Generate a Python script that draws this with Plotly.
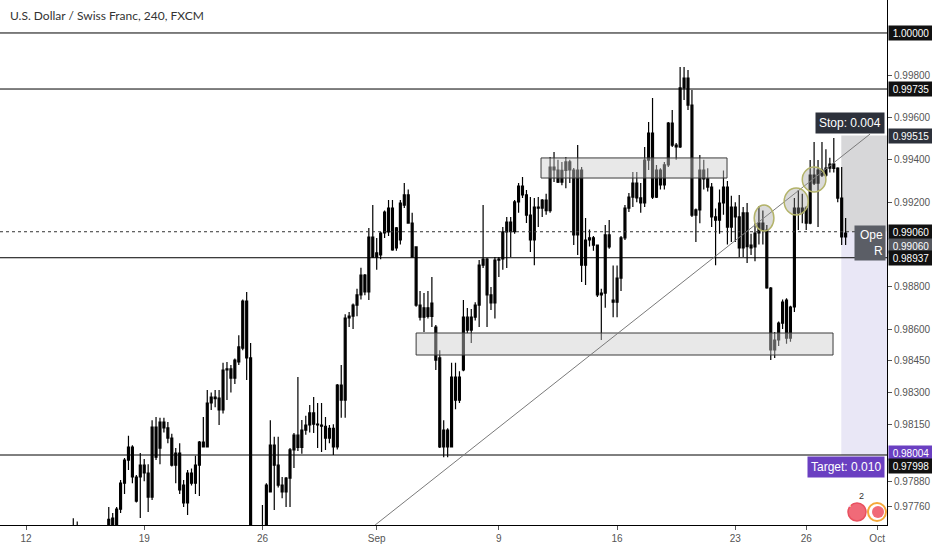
import plotly.graph_objects as go

# ---------------- data (4h bars, USD/CHF) ----------------
bar_index = list(range(-6, 209))

opens = [
    .97560, .97580, .97600, .97590, .97560, .97590, .97620, .97600, .97580, .97570,
    .97550, .97580, .97610, .97600, .97620, .97630, .97640, .97610, .97630, .97650,
    .97620, .97600, .97590, .97620, .97610, .97630, .97620, .97640, .97706, .97650,
    .97748, .97871, .97980, .98042, .97900, .97900, .97956, .97919, .97805, .98136,
    .98037, .98160, .98132, .98084, .98013, .98013, .97862, .97777, .97919, .97871,
    .97956, .98065, .98042, .98250, .98278, .98273, .98217, .98411, .98411, .98368,
    .98444, .98510, .98732, .98463, .97560, .97520, .97600, .97650, .97829, .98051,
    .97956, .97862, .97829, .97895, .98028, .98098, .98040, .98122, .98146, .98203,
    .98150, .98146, .98140, .98084, .98130, .98042, .98335, .98264, .98652, .98661,
    .98713, .98761, .98855, .98775, .99035, .98940, .98950, .99054, .99059, .99172,
    .98983, .99021, .99186, .99234, .99101, .98988, .98713, .98656, .98700, .98660,
    .98609, .98463, .98042, .98122, .98042, .98373, .98264, .98406, .98656, .98595,
    .98656, .98713, .98902, .98931, .98761, .98723, .98926, .98931, .99059, .99106,
    .99060, .99201, .99276, .99234, .99139, .99021, .99177, .99172, .99210, .99160,
    .99366, .99352, .99295, .99350, .99390, .99352, .99045, .99352, .98902, .99021,
    .99031, .98997, .98761, .98770, .99045, .98737, .98727, .98841, .99031, .99172,
    .99224, .99290, .99220, .99196, .99399, .99527, .99224, .99352, .99281, .99376,
    .99574, .99470, .99461, .99740, .99787, .99659, .99139, .99163, .99352, .99310,
    .99271, .99130, .99115, .99196, .99271, .99082, .99177, .99130, .98983, .99149,
    .98997, .98988, .99054, .99101, .99068, .98794, .98501, .98548, .98628, .98737,
    .98557, .98704, .99172, .99149, .99172, .99101, .99328, .99290, .99352, .99328,
    .99361, .99380, .99361, .99219, .99035,
]

highs = [
    .97600, .97610, .97630, .97620, .97600, .97640, .97650, .97620, .97610, .97600,
    .97590, .97620, .97640, .97630, .97650, .97668, .97660, .97650, .97705, .97690,
    .97650, .97630, .97640, .97650, .97640, .97655, .97650, .97758, .97730, .97758,
    .97886, .97990, .98095, .98050, .97910, .98013, .97985, .97960, .98169, .98184,
    .98180, .98180, .98160, .98105, .98037, .98060, .97886, .97933, .97940, .98000,
    .98070, .98184, .98311, .98300, .98311, .98311, .98440, .98444, .98430, .98460,
    .98570, .98740, .98775, .98534, .97620, .97640, .97767, .97870, .98169, .98090,
    .98090, .97900, .97900, .98037, .98108, .98373, .98170, .98190, .98240, .98278,
    .98250, .98250, .98184, .98146, .98150, .98340, .98430, .98670, .98680, .98720,
    .98790, .98890, .98860, .99078, .99186, .99030, .99060, .99160, .99210, .99210,
    .99082, .99210, .99290, .99260, .99150, .98990, .98780, .98770, .98780, .98846,
    .98619, .98500, .98169, .98130, .98440, .98440, .98400, .98737, .98699, .98695,
    .98727, .98926, .99186, .98936, .98799, .98940, .98940, .99082, .99130, .99130,
    .99210, .99290, .99319, .99257, .99224, .99219, .99224, .99215, .99240, .99413,
    .99437, .99400, .99390, .99413, .99400, .99361, .99470, .99366, .99125, .99070,
    .99040, .99000, .98790, .99092, .99115, .98900, .98900, .99040, .99186, .99243,
    .99342, .99342, .99290, .99461, .99579, .99692, .99376, .99360, .99390, .99579,
    .99636, .99480, .99839, .99839, .99825, .99730, .99170, .99423, .99400, .99360,
    .99290, .99170, .99260, .99350, .99300, .99230, .99200, .99234, .99177, .99196,
    .99050, .99100, .99180, .99160, .99092, .98799, .98586, .98635, .98740, .98745,
    .98710, .99220, .99257, .99240, .99180, .99399, .99484, .99399, .99484, .99450,
    .99410, .99503, .99365, .99366, .99125,
]

lows = [
    .97520, .97550, .97570, .97540, .97520, .97570, .97580, .97560, .97540, .97530,
    .97520, .97560, .97580, .97570, .97600, .97610, .97590, .97580, .97620, .97600,
    .97580, .97560, .97570, .97590, .97580, .97600, .97600, .97620, .97630, .97640,
    .97730, .97820, .97933, .97870, .97780, .97706, .97880, .97735, .97791, .97980,
    .97960, .98110, .98060, .97950, .97871, .97820, .97758, .97720, .97860, .97820,
    .97810, .98040, .98040, .98217, .98230, .98146, .98200, .98264, .98300, .98340,
    .98430, .98500, .98359, .97500, .97450, .97480, .97560, .97620, .97829, .97744,
    .97850, .97800, .97758, .97758, .97942, .98023, .98010, .98100, .98110, .98108,
    .98037, .98018, .98028, .98060, .98004, .98030, .98180, .98180, .98610, .98600,
    .98660, .98740, .98760, .98737, .98936, .98880, .98930, .99030, .99040, .98970,
    .98970, .99000, .99172, .99100, .98940, .98705, .98640, .98586, .98650, .98610,
    .98406, .98037, .97994, .97994, .98040, .98220, .98250, .98400, .98581, .98534,
    .98640, .98609, .98888, .98609, .98690, .98650, .98846, .98880, .98888, .98940,
    .99050, .99150, .99220, .99101, .98964, .98902, .99082, .99130, .99140, .99150,
    .99295, .99290, .99280, .99266, .99290, .98997, .98950, .98822, .98808, .98990,
    .98970, .98751, .98548, .98700, .98980, .98656, .98656, .98780, .99021, .99153,
    .99177, .99200, .99150, .99177, .99352, .99215, .99219, .99260, .99260, .99366,
    .99461, .99400, .99456, .99683, .99636, .99130, .99011, .99100, .99260, .99250,
    .99082, .98902, .99050, .99140, .99000, .99011, .99011, .98940, .98940, .98912,
    .98950, .98920, .99000, .99000, .98790, .98453, .98463, .98520, .98600, .98530,
    .98540, .98680, .99068, .99100, .99068, .99095, .99281, .99082, .99319, .99320,
    .99340, .99340, .99200, .98997, .98997,
]

closes = [
    .97580, .97600, .97590, .97560, .97590, .97620, .97600, .97580, .97570, .97550,
    .97580, .97610, .97600, .97620, .97630, .97640, .97610, .97630, .97650, .97620,
    .97600, .97590, .97620, .97610, .97630, .97620, .97640, .97700, .97650, .97748,
    .97871, .97980, .98042, .97900, .97786, .97956, .97919, .97805, .98136, .97994,
    .98160, .98132, .98084, .97956, .97956, .97839, .97777, .97919, .97871, .97956,
    .98065, .98042, .98250, .98278, .98270, .98217, .98406, .98406, .98368, .98453,
    .98515, .98732, .98463, .97560, .97520, .97600, .97640, .97862, .98051, .97956,
    .97862, .97829, .97895, .98028, .98098, .98040, .98122, .98146, .98203, .98150,
    .98146, .98140, .98084, .98130, .98042, .98335, .98264, .98652, .98661, .98713,
    .98761, .98855, .98775, .99035, .98940, .98960, .99054, .99153, .99172, .98974,
    .99078, .99196, .99234, .99101, .98940, .98713, .98656, .98700, .98660, .98723,
    .98453, .98042, .98122, .98042, .98373, .98264, .98373, .98656, .98595, .98656,
    .98713, .98902, .98931, .98761, .98723, .98926, .98931, .99059, .99106, .99060,
    .99201, .99276, .99234, .99139, .99021, .99177, .99172, .99210, .99160, .99366,
    .99352, .99295, .99350, .99390, .99352, .99045, .99352, .98902, .99021, .99031,
    .98997, .98761, .98770, .99045, .98988, .98727, .98841, .99031, .99172, .99224,
    .99290, .99220, .99196, .99399, .99527, .99224, .99352, .99281, .99376, .99574,
    .99470, .99461, .99740, .99787, .99659, .99139, .99163, .99352, .99310, .99271,
    .99130, .99115, .99196, .99271, .99082, .99177, .99130, .98983, .99149, .98990,
    .98983, .99054, .99101, .99068, .98794, .98501, .98548, .98628, .98727, .98557,
    .98704, .99172, .99149, .99172, .99101, .99328, .99290, .99352, .99328, .99361,
    .99380, .99360, .99219, .99035, .99054,
]

assert len(opens) == len(highs) == len(lows) == len(closes) == len(bar_index)

# key levels drawn on the chart
horizontal_levels = [1.00000, 0.99735, 0.98937, 0.98004]
entry_level = 0.99060
stop_level = 0.99515
target_level = 0.98004

# price-axis tick values and date ticks
price_ticks = [0.99800, 0.99600, 0.99400, 0.99200, 0.98800, 0.98600,
               0.98450, 0.98300, 0.98150, 0.97880, 0.97760]
date_tick_bars = [0, 30, 60, 89, 120, 150, 180, 198, 216]
date_tick_labels = ["12", "19", "26", "Sep", "9", "16", "23", "26", "Oct"]

# drawn zones (bar index ranges, price ranges)
supply_box = dict(x0=130.7, x1=177.9, y0=0.99314, y1=0.99409)
demand_box = dict(x0=99.0, x1=204.8, y0=0.98477, y1=0.98581)
trend_line = dict(x0=88.6, y0=0.97673, x1=214.2, y1=0.99522)
touch_circles = [
    dict(x0=184.8, x1=189.8, y0=0.99063, y1=0.99186),
    dict(x0=192.4, x1=198.5, y0=0.99139, y1=0.99267),
    dict(x0=197.0, x1=203.0, y0=0.99248, y1=0.99366),
]
position_start_bar = 206.9

X_RANGE = [-6.6, 218.5]
Y_RANGE = [0.97673, 1.00156]

# ---------------- figure ----------------
fig = go.Figure(go.Candlestick(
    x=bar_index, open=opens, high=highs, low=lows, close=closes,
    increasing=dict(line=dict(color="#000000", width=1.2), fillcolor="#000000"),
    decreasing=dict(line=dict(color="#000000", width=1.2), fillcolor="#000000"),
    whiskerwidth=0, showlegend=False, hoverinfo="skip",
))

shapes = []
# position tool zones (below candles)
shapes.append(dict(type="rect", xref="x", yref="y", x0=position_start_bar, x1=X_RANGE[1],
                   y0=entry_level, y1=stop_level, fillcolor="#d7d7d9", line=dict(width=0), layer="below"))
shapes.append(dict(type="rect", xref="x", yref="y", x0=position_start_bar, x1=X_RANGE[1],
                   y0=target_level, y1=entry_level, fillcolor="#e9e7f6", line=dict(width=0), layer="below"))
# horizontal levels
for lv in horizontal_levels:
    shapes.append(dict(type="line", xref="paper", yref="y", x0=0, x1=1, y0=lv, y1=lv,
                       line=dict(color="#000000", width=1)))
shapes.append(dict(type="line", xref="paper", yref="y", x0=0, x1=1, y0=entry_level, y1=entry_level,
                   line=dict(color="#333333", width=1, dash="dot")))
# boxes
for b in (supply_box, demand_box):
    shapes.append(dict(type="rect", xref="x", yref="y", **b,
                       fillcolor="rgba(205,205,205,0.45)", line=dict(color="#3a3a3a", width=1)))
# trend line
shapes.append(dict(type="line", xref="x", yref="y", **trend_line, line=dict(color="#7a7a7a", width=1)))
# circles
for c in touch_circles:
    shapes.append(dict(type="circle", xref="x", yref="y", **c,
                       fillcolor="rgba(150,150,150,0.35)", line=dict(color="#b3b36a", width=1.5)))

# event icons near bottom right (paper coords)
def px_x(v):
    return v / 887.0

def px_y(v):
    return 1 - v / 525.0

shapes.append(dict(type="circle", xref="paper", yref="paper", x0=px_x(848), x1=px_x(866),
                   y0=px_y(521), y1=px_y(503), fillcolor="#f06a78", line=dict(color="#e8505f", width=1.5)))
shapes.append(dict(type="circle", xref="paper", yref="paper", x0=px_x(868), x1=px_x(886),
                   y0=px_y(521), y1=px_y(503), fillcolor="rgba(255,255,255,0.6)",
                   line=dict(color="#f5a93b", width=2)))
shapes.append(dict(type="circle", xref="paper", yref="paper", x0=px_x(872), x1=px_x(884),
                   y0=px_y(518), y1=px_y(506), fillcolor="#f06a78", line=dict(width=0)))

annotations = []
annotations.append(dict(xref="paper", yref="paper", x=px_x(8), y=px_y(16), xanchor="left", yanchor="middle",
                        text="U.S. Dollar / Swiss Franc, 240, FXCM", showarrow=False,
                        font=dict(family="Lato", size=12, color="#333333")))
annotations.append(dict(xref="paper", yref="paper", x=px_x(857), y=px_y(512), text="+", showarrow=False,
                        font=dict(size=12, color="white", family="DejaVu Sans")))
annotations.append(dict(xref="paper", yref="paper", x=px_x(866), y=px_y(503), text="2", showarrow=False,
                        font=dict(size=9, color="#333333", family="Liberation Sans")))


def price_tag(price, bg, yshift=0):
    annotations.append(dict(xref="paper", yref="y", x=1, y=price, xanchor="left", yanchor="middle",
                            text=f"{price:.5f}", showarrow=False, bgcolor=bg, width=42, height=12,
                            xshift=1, yshift=yshift, borderpad=1,
                            font=dict(family="Liberation Sans", size=10, color="white")))


price_tag(1.00000, "#111111")
price_tag(0.99735, "#111111")
price_tag(stop_level, "#2d313b")
price_tag(entry_level, "#111111")
price_tag(entry_level, "#55585f", yshift=-14)
price_tag(0.98937, "#111111")
price_tag(target_level, "#6a3fc1", yshift=2)
price_tag(0.97998, "#111111", yshift=-10)

annotations.append(dict(xref="paper", yref="y", x=px_x(885), y=stop_level, xanchor="right", yanchor="bottom",
                        yshift=2, text="Stop: 0.004", showarrow=False, bgcolor="#2d313b", borderpad=3,
                        font=dict(family="Liberation Sans", size=12, color="white")))
annotations.append(dict(xref="paper", yref="y", x=px_x(885), y=target_level, xanchor="right", yanchor="top",
                        yshift=-1, text="Target: 0.010", showarrow=False, bgcolor="#6a3fc1", borderpad=3,
                        font=dict(family="Liberation Sans", size=12, color="white")))
annotations.append(dict(xref="paper", yref="y", x=px_x(886), y=entry_level, xanchor="right", yanchor="top",
                        yshift=7, text="Ope<br> R", showarrow=False, bgcolor="#5b5e66", borderpad=2,
                        align="right", width=26,
                        font=dict(family="Liberation Sans", size=12, color="white")))

fig.update_layout(
    width=932, height=550,
    margin=dict(l=0, r=45, t=0, b=25),
    paper_bgcolor="white", plot_bgcolor="white",
    font=dict(family="Liberation Sans", size=10, color="#555555"),
    showlegend=False,
    hovermode=False,
    shapes=shapes,
    annotations=annotations,
    xaxis=dict(range=X_RANGE, rangeslider=dict(visible=False), tickmode="array",
               tickvals=date_tick_bars, ticktext=date_tick_labels, ticks="outside", ticklen=4,
               tickcolor="#555555", showgrid=False, zeroline=False, showline=True,
               linecolor="#000000", linewidth=1, tickfont=dict(size=10, color="#555555")),
    yaxis=dict(range=Y_RANGE, side="right", tickmode="array", tickvals=price_ticks,
               ticktext=[f"{v:.5f}" for v in price_ticks], ticks="outside", ticklen=4,
               tickcolor="#555555", showgrid=False, zeroline=False, showline=True,
               linecolor="#000000", linewidth=1, tickfont=dict(size=10, color="#555555")),
)

fig.write_html("out.html", config={"displayModeBar": False},
               post_script="document.body.style.margin='0';document.body.style.overflow='hidden';")
